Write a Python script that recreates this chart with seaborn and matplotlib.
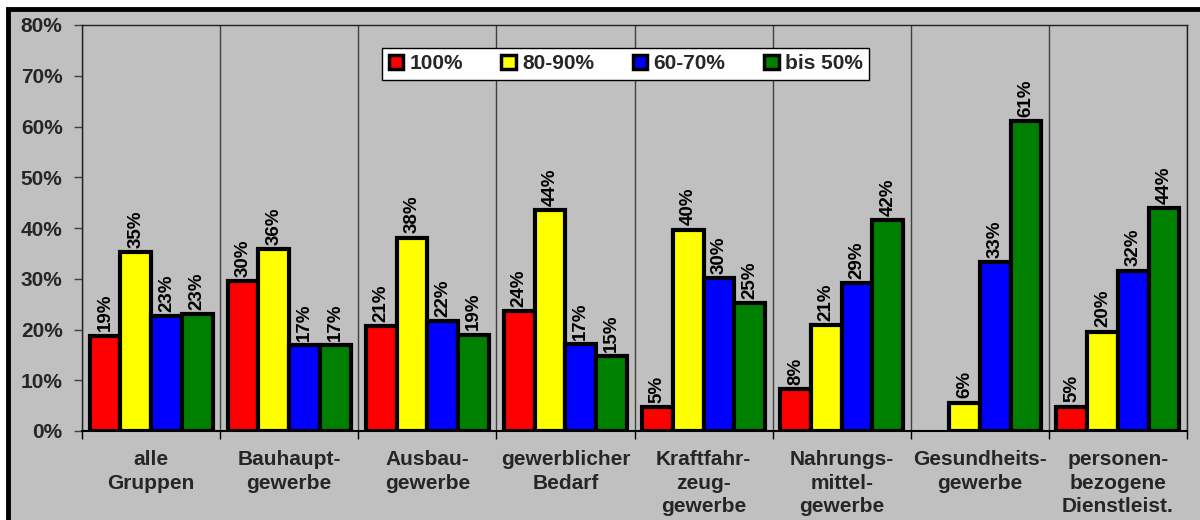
import numpy as np
import pandas as pd
import matplotlib
matplotlib.use("Agg")
import matplotlib.pyplot as plt
from matplotlib.patches import Rectangle, Patch
from matplotlib.ticker import FixedLocator
import seaborn as sns

# ----- DATEN -----
gruppen = ["alle\nGruppen", "Bauhaupt-\ngewerbe", "Ausbau-\ngewerbe",
           "gewerblicher\nBedarf", "Kraftfahr-\nzeug-\ngewerbe",
           "Nahrungs-\nmittel-\ngewerbe", "Gesundheits-\ngewerbe",
           "personen-\nbezogene\nDienstleist."]
quoten = ["100%", "80-90%", "60-70%", "bis 50%"]
farben = ["#FF0000", "#FFFF00", "#0000FF", "#008000"]

w_100 = [18.8, 29.6, 20.6, 23.7, 4.7, 8.2, np.nan, 4.8]
w_80_90 = [35.2, 35.9, 38.1, 43.6, 39.7, 20.8, 5.6, 19.6]
w_60_70 = [22.6, 16.9, 21.6, 17.1, 30.1, 29.1, 33.3, 31.6]
w_bis50 = [23.1, 16.9, 19.0, 14.8, 25.2, 41.6, 61.1, 43.9]

serien = [w_100, w_80_90, w_60_70, w_bis50]
df = pd.DataFrame({
    "Gruppe": np.tile(gruppen, len(quoten)),
    "Quote": np.repeat(quoten, len(gruppen)),
    "Anteil": np.concatenate(serien),
}).dropna()

# ----- STIL -----
sns.set_theme(style="white")
plt.rcParams["font.family"] = ["Liberation Sans", "DejaVu Sans"]
plt.rcParams["font.weight"] = "bold"
grau = "#C0C0C0"

fig = plt.figure(figsize=(12, 5.2), dpi=100, facecolor="white")
# grauer Hintergrund mit dickem schwarzem Rahmen
fig.patches.append(Rectangle((8 / 1200, -0.1), 1.0, 1.1 - 9 / 520,
                             transform=fig.transFigure, facecolor=grau,
                             edgecolor="black", linewidth=3.5, zorder=-10))
ax = fig.add_axes([82 / 1200, 1 - 431 / 520, 1105 / 1200, 406 / 520])
ax.set_zorder(5)
ax.set_facecolor(grau)

sns.barplot(data=df, x="Gruppe", y="Anteil", hue="Quote", order=gruppen,
            hue_order=quoten, palette=farben, width=0.89, saturation=1,
            edgecolor="black", linewidth=3, legend=False, ax=ax, zorder=3)

for c in ax.containers:
    ax.bar_label(c, fmt=lambda v: f"{v:.0f}%", rotation=90, padding=3,
                 fontsize=13.5, fontweight="bold", color="black")

# ----- ACHSEN -----
ax.set_ylim(0, 80)
ax.set_xlim(-0.5, len(gruppen) - 0.5)
ax.set_yticks(range(0, 81, 10))
ax.set_yticklabels([f"{v}%" for v in range(0, 81, 10)])
ax.set_xlabel("")
ax.set_ylabel("")
ax.xaxis.set_minor_locator(FixedLocator(np.arange(-0.5, len(gruppen), 1)))
ax.tick_params(axis="x", which="major", length=0, pad=14, labelsize=15)
ax.tick_params(axis="x", which="minor", length=6, width=1, color="black",
               direction="out", bottom=True)
ax.tick_params(axis="y", length=6, width=1, color="#404040", left=True,
               direction="out", labelsize=15, pad=8)
for lab in ax.get_xticklabels() + ax.get_yticklabels():
    lab.set_fontweight("bold")
for lab in ax.get_xticklabels():
    lab.set_linespacing(1.3)
ax.grid(False)
ax.grid(which="minor", axis="x", color="#404040", linewidth=1)
for s in ["left", "top", "right"]:
    ax.spines[s].set_color("#202020")
    ax.spines[s].set_linewidth(1)
ax.spines["bottom"].set_color("black")
ax.spines["bottom"].set_linewidth(1.5)

# ----- LEGENDE -----
handles = [Patch(facecolor=f, edgecolor="black", linewidth=2.5) for f in farben]
leg = ax.legend(handles, quoten, loc="center", bbox_to_anchor=(0.492, 0.904),
                ncol=4, frameon=True, fancybox=False, framealpha=1,
                handlelength=0.7, handleheight=0.7, handletextpad=0.3,
                columnspacing=1.85, borderpad=0.3, prop={"weight": "bold", "size": 15})
leg.get_frame().set_edgecolor("black")
leg.get_frame().set_linewidth(1)
leg.get_frame().set_facecolor("white")

fig.savefig("out.png", dpi=100, facecolor=fig.get_facecolor())
